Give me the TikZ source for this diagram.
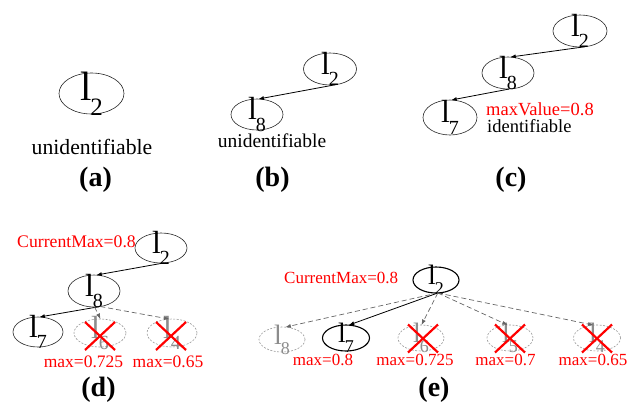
\documentclass[tikz,border=0pt]{standalone}
\usepackage{fontspec}
\setmainfont{Liberation Serif}
\usetikzlibrary{shapes.geometric,arrows.meta}

% l with a lowered index: #1 letter size, #2 index size, #3 index
\newcommand\lsub[3]{\fontsize{#1}{#1}\selectfont l\kern-0.03em\raisebox{-0.36em}{\fontsize{#2}{#2}\selectfont #3}}

\tikzset{
  lnode/.style={ellipse, draw=black!85, line width=0.6pt, inner sep=0pt, outer sep=0pt},
  bold node/.style={lnode, draw=black, line width=1.1pt},
  cutnode/.style={ellipse, draw=black!40, dash pattern=on 2pt off 1.5pt,
    line width=0.6pt, inner sep=0pt, outer sep=0pt},
  size/.style 2 args={minimum width=#1pt, minimum height=#2pt},
  txt/.style={label={[inner sep=0pt]center:#1}},
  gtxt/.style={label={[inner sep=0pt, text=black!45]center:#1}},
  arr/.style={-{Latex[length=5.5pt,width=4pt]}, line width=0.8pt, black},
  darr/.style={-{Latex[length=5.5pt,width=4pt]}, line width=0.7pt, black!60,
    dash pattern=on 5pt off 3pt},
  cross/.style={red, line width=2.2pt},
  redtxt/.style={red, inner sep=0pt},
  plain/.style={inner sep=0pt},
  tag/.style={font=\bfseries\fontsize{28}{28}\selectfont, inner sep=0pt}
}

\newcommand\xmark[2]{%
  \draw[cross] (#1-15,#2-14) -- (#1+15,#2+14);
  \draw[cross] (#1-15,#2+14) -- (#1+15,#2-14);}

\begin{document}
\begin{tikzpicture}[x=1pt,y=-1pt]
\useasboundingbox (0,0) rectangle (635,413);

% ---------- (a)
\node[lnode, size={65}{41}, txt={\lsub{41}{25}{2}}] (a2) at (91.5,93.5) {};
\node[plain, anchor=base, font=\fontsize{21.7}{21.7}\selectfont] (ua) at (92,154) {unidentifiable};
\node[tag] (ta) at (95.5,180) {(a)};

% ---------- (b)
\node[lnode, size={53}{32}, txt={\lsub{32}{20}{2}}] (b2) at (330,69) {};
\node[lnode, size={52}{31}, txt={\lsub{32}{20}{8}}] (b8) at (257,114.5) {};
\draw[arr] (b2.-62) -- (b8.85);
\node[plain, anchor=base, font=\fontsize{19.5}{19.5}\selectfont] (ub) at (272,147) {unidentifiable};
\node[tag] (tb) at (272.5,180) {(b)};

% ---------- (c)
\node[lnode, size={54}{32}, txt={\lsub{32}{20}{2}}] (c2) at (580,31) {};
\node[lnode, size={52}{32}, txt={\lsub{32}{20}{8}}] (c8) at (508,73) {};
\node[lnode, size={54}{35}, txt={\lsub{32}{20}{7}}] (c7) at (450,117.5) {};
\draw[arr] (c2.-72) -- (c8.82);
\draw[arr] (c8.-85) -- (c7.86);
\node[redtxt, anchor=base west, font=\fontsize{18.5}{18.5}\selectfont] (mv) at (486,115) {maxValue=0.8};
\node[plain, anchor=base west, font=\fontsize{18.5}{18.5}\selectfont] (id) at (487,132) {identifiable};
\node[tag] (tc) at (511,180) {(c)};

% ---------- (d)
\node[redtxt, anchor=base west, font=\fontsize{17.7}{17.7}\selectfont] (cmd) at (17,247) {CurrentMax=0.8};
\node[lnode, size={52}{30}, txt={\lsub{32}{20}{2}}] (d2) at (161,248) {};
\node[lnode, size={52}{32}, txt={\lsub{32}{20}{8}}] (d8) at (94,291) {};
\node[lnode, size={50}{30}, txt={\lsub{32}{20}{7}}] (d7) at (38,332) {};
\node[cutnode, size={52}{28}, gtxt={\lsub{32}{20}{6}}] (d6) at (100,333) {};
\node[cutnode, size={50}{28}, gtxt={\lsub{32}{20}{4}}] (d4) at (172,333) {};
\draw[arr] (d2.-78) -- (d8.82);
\draw[arr] (d8.-72) -- (d7.85);
\draw[darr] (d8.-88) -- (d6.88);
\draw[darr] (d8.-68) -- (d4.100);
\xmark{100}{336}
\xmark{171}{336}
\node[redtxt, anchor=base, font=\fontsize{17.5}{17.5}\selectfont] (md6) at (83.5,367) {max=0.725};
\node[redtxt, anchor=base, font=\fontsize{17.5}{17.5}\selectfont] (md4) at (168,367) {max=0.65};
\node[tag] (td) at (98.5,390) {(d)};

% ---------- (e)
\node[redtxt, anchor=base west, font=\fontsize{17}{17}\selectfont] (cme) at (284,283) {CurrentMax=0.8};
\node[bold node, size={46}{26}, txt={\lsub{28}{18}{2}}] (e2) at (436,280) {};
\node[cutnode, size={46}{25}, gtxt={\lsub{28}{18}{8}}] (e8) at (282,339.5) {};
\node[bold node, size={47}{26}, txt={\lsub{28}{18}{7}}] (e7) at (346,338) {};
\node[cutnode, size={46}{26}, gtxt={\lsub{28}{18}{6}}] (e6) at (421,338) {};
\node[cutnode, size={46}{26}, gtxt={\lsub{28}{18}{5}}] (e5) at (510,338) {};
\node[cutnode, size={47}{26}, gtxt={\lsub{28}{18}{4}}] (e4) at (597,338) {};
\coordinate (es) at (e2.-82);
\draw[darr] (es) -- (e8.75);
\draw[arr] (es) -- (e7.78);
\draw[darr] (es) -- (e6.88);
\draw[darr] (es) -- (e5.100);
\draw[darr] (es) -- (e4.105);
\xmark{423}{338.5}
\xmark{510}{338.5}
\xmark{597}{338.5}
\node[redtxt, anchor=base, font=\fontsize{17}{17}\selectfont] (me7) at (323,365) {max=0.8};
\node[redtxt, anchor=base, font=\fontsize{17}{17}\selectfont] (me6) at (415,365) {max=0.725};
\node[redtxt, anchor=base, font=\fontsize{17}{17}\selectfont] (me5) at (505.5,365) {max=0.7};
\node[redtxt, anchor=base, font=\fontsize{17}{17}\selectfont] (me4) at (593,365) {max=0.65};
\node[tag] (te) at (434,390) {(e)};
\end{tikzpicture}
\end{document}
